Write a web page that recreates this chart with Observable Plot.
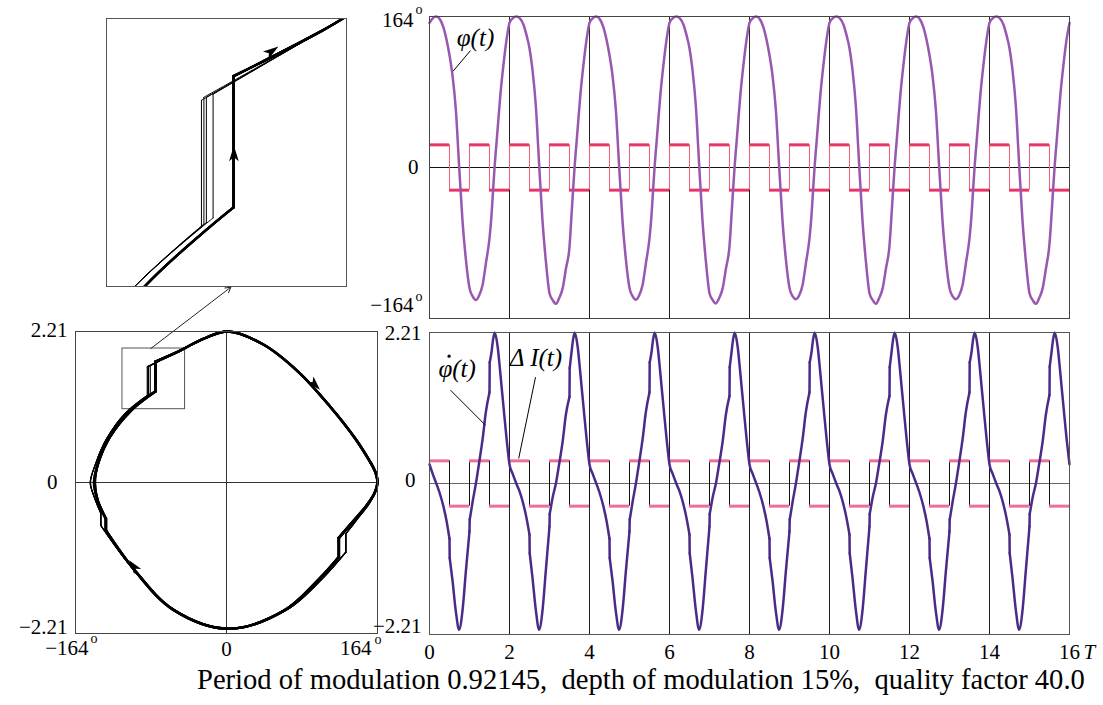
<!DOCTYPE html>
<html>
<head>
<meta charset="utf-8">
<script src="https://cdn.jsdelivr.net/npm/d3@7"></script>
<script src="https://cdn.jsdelivr.net/npm/@observablehq/plot@0.6"></script>
<style>
  html, body { margin: 0; padding: 0; background: #fff; }
  #root { position: relative; width: 1103px; height: 705px; overflow: hidden; font-family: "Liberation Serif", "Times New Roman", serif; }
  #root svg { position: absolute; }
  #caption { position: absolute; left: 197px; top: 664px; font-size: 28.6px; white-space: pre; color: #000; font-family: "Liberation Serif", "Times New Roman", serif; }
</style>
</head>
<body>
<div id="root"></div>
<script>
// ---------------- data ----------------
// time samples (T units), grouped by period of 2
const time = [
  0,0.08,0.17,0.26,0.35,0.43,0.5,0.505,0.575,0.66,0.74,0.825,0.91,1,1.005,1.08,1.16,1.24,1.33,1.41,1.5,1.505,1.55,1.59,1.63,1.7,1.77,1.85,1.93,
  2,2.08,2.17,2.26,2.35,2.43,2.5,2.505,2.575,2.66,2.74,2.825,2.91,3,3.005,3.08,3.16,3.24,3.33,3.41,3.5,3.505,3.55,3.59,3.63,3.7,3.77,3.85,3.93,
  4,4.08,4.17,4.26,4.35,4.43,4.5,4.505,4.575,4.66,4.74,4.825,4.91,5,5.005,5.08,5.16,5.24,5.33,5.41,5.5,5.505,5.55,5.59,5.63,5.7,5.77,5.85,5.93,
  6,6.08,6.17,6.26,6.35,6.43,6.5,6.505,6.575,6.66,6.74,6.825,6.91,7,7.005,7.08,7.16,7.24,7.33,7.41,7.5,7.505,7.55,7.59,7.63,7.7,7.77,7.85,7.93,
  8,8.08,8.17,8.26,8.35,8.43,8.5,8.505,8.575,8.66,8.74,8.825,8.91,9,9.005,9.08,9.16,9.24,9.33,9.41,9.5,9.505,9.55,9.59,9.63,9.7,9.77,9.85,9.93,
  10,10.08,10.17,10.26,10.35,10.43,10.5,10.505,10.575,10.66,10.74,10.825,10.91,11,11.005,11.08,11.16,11.24,11.33,11.41,11.5,11.505,11.55,11.59,11.63,11.7,11.77,11.85,11.93,
  12,12.08,12.17,12.26,12.35,12.43,12.5,12.505,12.575,12.66,12.74,12.825,12.91,13,13.005,13.08,13.16,13.24,13.33,13.41,13.5,13.505,13.55,13.59,13.63,13.7,13.77,13.85,13.93,
  14,14.08,14.17,14.26,14.35,14.43,14.5,14.505,14.575,14.66,14.74,14.825,14.91,15,15.005,15.08,15.16,15.24,15.33,15.41,15.5,15.505,15.55,15.59,15.63,15.7,15.77,15.85,15.93,
  16
];
// phase φ(t), degrees
const phi = [
  157,162,164,161,152,138,122,122,100,62,2,-58,-100,-131,-131,-140,-144,-139,-127,-104,-77,-77,-52,-24,2,40,78,112,140,
  157,162,164,162,155,143,129.6,129.6,106,66,4,-58,-102,-136.5,-136.5,-144,-148,-142,-131,-110,-86.1,-86.1,-52,-24,2,40,78,112,140,
  157,162,164,161,152,138,122,122,100,62,2,-58,-100,-131,-131,-140,-143.5,-139,-127,-104,-77,-77,-52,-24,2,40,78,112,140,
  157,162,164,162,155,143,129.6,129.6,106,66,4,-58,-102,-136.5,-136.5,-144,-147.6,-142,-131,-110,-85.4,-85.4,-52,-24,2,40,78,112,140,
  157,162,164,161,152,138,122,122,100,62,2,-58,-100,-131,-131,-140,-143,-139,-127,-104,-77,-77,-52,-24,2,40,78,112,140,
  157,162,164,162,155,143,129.6,129.6,106,66,4,-58,-102,-136.5,-136.5,-144,-148,-142,-131,-110,-84.7,-84.7,-52,-24,2,40,78,112,140,
  157,162,164,161,152,138,122,122,100,62,2,-58,-100,-131,-131,-140,-143,-139,-127,-104,-77,-77,-52,-24,2,40,78,112,140,
  157,162,164,162,155,143,129.6,129.6,106,66,4,-58,-102,-136.5,-136.5,-144,-148,-142,-131,-110,-82.8,-82.8,-52,-24,2,40,78,112,140,
  157
];
// phase derivative φ̇(t)
const phiDot = [
  0.28,0.14,0,-0.15,-0.34,-0.56,-0.81,-1.09,-1.42,-1.88,-2.14,-1.86,-1.28,-0.7,-0.53,-0.26,0,0.3,0.66,1.05,1.335,1.77,1.92,2.11,2.21,2.02,1.62,1.12,0.64,
  0.28,0.14,0,-0.13,-0.31,-0.52,-0.75,-1.02,-1.38,-1.86,-2.14,-1.86,-1.26,-0.63,-0.45,-0.2,0,0.28,0.62,1.01,1.27,1.69,1.92,2.11,2.21,2.02,1.62,1.12,0.64,
  0.28,0.14,0,-0.15,-0.34,-0.56,-0.81,-1.09,-1.42,-1.88,-2.14,-1.86,-1.28,-0.7,-0.53,-0.26,0,0.3,0.66,1.05,1.335,1.77,1.92,2.11,2.21,2.02,1.62,1.12,0.64,
  0.28,0.14,0,-0.13,-0.31,-0.52,-0.75,-1.02,-1.38,-1.86,-2.14,-1.86,-1.26,-0.63,-0.45,-0.2,0,0.28,0.62,1.01,1.28,1.7,1.92,2.11,2.21,2.02,1.62,1.12,0.64,
  0.28,0.14,0,-0.15,-0.34,-0.56,-0.81,-1.09,-1.42,-1.88,-2.14,-1.86,-1.28,-0.7,-0.53,-0.26,0,0.3,0.66,1.05,1.335,1.77,1.92,2.11,2.21,2.02,1.62,1.12,0.64,
  0.28,0.14,0,-0.13,-0.31,-0.52,-0.75,-1.02,-1.38,-1.86,-2.14,-1.86,-1.26,-0.63,-0.45,-0.2,0,0.28,0.62,1.01,1.285,1.7,1.92,2.11,2.21,2.02,1.62,1.12,0.64,
  0.28,0.14,0,-0.15,-0.34,-0.56,-0.81,-1.09,-1.42,-1.88,-2.14,-1.86,-1.28,-0.7,-0.53,-0.26,0,0.3,0.66,1.05,1.335,1.77,1.92,2.11,2.21,2.02,1.62,1.12,0.64,
  0.28,0.14,0,-0.13,-0.31,-0.52,-0.75,-1.02,-1.38,-1.86,-2.14,-1.86,-1.26,-0.63,-0.45,-0.2,0,0.28,0.62,1.01,1.3,1.71,1.92,2.11,2.21,2.02,1.62,1.12,0.64,
  0.28
];
// square-wave modulation ΔI(t): switching instants and sign of each half period
const modEdges = [0,0.5,1,1.5,2,2.5,3,3.5,4,4.5,5,5.5,6,6.5,7,7.5,8,8.5,9,9.5,10,10.5,11,11.5,12,12.5,13,13.5,14,14.5,15,15.5,16];
const modLevel = [1,-1,1,-1,1,-1,1,-1,1,-1,1,-1,1,-1,1,-1,1,-1,1,-1,1,-1,1,-1,1,-1,1,-1,1,-1,1,-1];
const modDepth = 0.15;
// axes
const phiMax = 164;
const dotMax = 2.21;
const gridT = [2,4,6,8,10,12,14];
const xTicks = [0,2,4,6,8,10,12,14,16];
const xTickLabels = ["0","2","4","6","8","10","12","14","16"];
// zoomed window of the phase portrait
const insetPhi = [-113, -45];
const insetDot = [1.073, 1.961];
// styling
const FONT = "Liberation Serif";
const phiColor = "#9857b0";
const dotColor = "#4a2b88";
const sqTopColor = "#e93566";
const sqTopEdge = "#f0607e";
const sqBotColor = "#ec6f98";

// ---------------- derived tables ----------------
const rows = time.map((t, i) => ({t, phi: phi[i], dot: phiDot[i]}));
const phiRows = rows.filter((d, i) => i === 0 || d.phi !== rows[i - 1].phi);
const segs = modLevel.map((l, i) => ({x1: modEdges[i], x2: modEdges[i + 1], level: l}));
const switches = modEdges.slice(1).map(t => ({t}));
const nCycles = 8;
const cycles = d3.range(nCycles).map(k => rows.filter(d => d.t >= 2 * k && d.t <= 2 * k + 2));

// split a run of samples into smooth pieces and the instantaneous jumps between them
function split(run) {
  const pieces = [], jumps = [];
  let cur = [run[0]];
  for (let i = 1; i < run.length; i++) {
    if (run[i].phi === run[i - 1].phi) {
      pieces.push(cur);
      jumps.push([run[i - 1], run[i]]);
      cur = [run[i]];
    } else cur.push(run[i]);
  }
  pieces.push(cur);
  return {
    smooth: pieces.flatMap((p, j) => p.map(d => ({...d, z: j}))),
    jumps: jumps.flatMap((p, j) => p.map(d => ({...d, z: j})))
  };
}
const cycleParts = cycles.map(split);
const dotParts = split(rows);

const arrowHead = {
  draw(context, size) {
    const r = Math.sqrt(size / Math.PI);
    context.moveTo(0, -1.6 * r);
    context.lineTo(0.8 * r, 1.0 * r);
    context.lineTo(0, 0.35 * r);
    context.lineTo(-0.8 * r, 1.0 * r);
    context.closePath();
  }
};

function lab(x, y, s, o = {}) {
  return Plot.text([{x, y, s}], Object.assign({x: "x", y: "y", text: "s", fontFamily: FONT, fontSize: 21, fill: "black", textAnchor: "middle"}, o));
}
function portraitLines(extra, wA, wB) {
  return cycleParts.flatMap((p, k) => [
    Plot.line(p.smooth, {x: "phi", y: "dot", z: "z", curve: "catmull-rom", stroke: "black", strokeWidth: k % 2 === 0 ? wA : wB, ...extra}),
    Plot.line(p.jumps, {x: "phi", y: "dot", z: "z", stroke: "black", strokeWidth: k % 2 === 0 ? wA : wB, ...extra})
  ]);
}

const root = document.getElementById("root");
function place(svg, left, top) {
  svg.style.left = left + "px";
  svg.style.top = top + "px";
  root.appendChild(svg);
}

// ---------------- inset (zoom of the portrait) ----------------
const inset = Plot.plot({
  width: 255, height: 285,
  marginLeft: 6, marginRight: 9, marginTop: 8, marginBottom: 9,
  x: {domain: insetPhi, axis: null},
  y: {domain: insetDot, axis: null},
  style: {background: "transparent", overflow: "visible"},
  marks: [
    ...portraitLines({clip: true}, 2.3, 1),
    Plot.dot([{x: -66.5, y: 1.85}, {x: -76.9, y: 1.508}], {x: "x", y: "y", symbol: arrowHead, r: 6, fill: "black", stroke: "none", rotate: (d, i) => [55, 0][i]}),
    Plot.frame({stroke: "#555", strokeWidth: 1})
  ]
});
place(inset, 100, 10);

// ---------------- phase portrait ----------------
const portrait = Plot.plot({
  width: 400, height: 385,
  marginLeft: 75, marginRight: 23, marginTop: 51, marginBottom: 32,
  x: {domain: [-phiMax, phiMax], axis: null},
  y: {domain: [-dotMax, dotMax], axis: null},
  style: {background: "transparent", overflow: "visible"},
  marks: [
    Plot.ruleX([0], {stroke: "#333", strokeWidth: 1}),
    Plot.ruleY([0], {stroke: "#333", strokeWidth: 1}),
    Plot.rect([{x1: insetPhi[0], x2: insetPhi[1], y1: insetDot[0], y2: insetDot[1]}], {x1: "x1", x2: "x2", y1: "y1", y2: "y2", fill: "none", stroke: "#555", strokeWidth: 1}),
    Plot.arrow([{x1: -82.2, y1: insetDot[1], x2: 4.7, y2: 2.858}], {x1: "x1", y1: "y1", x2: "x2", y2: "y2", stroke: "#222", strokeWidth: 1, headLength: 9}),
    ...portraitLines({}, 2.5, 1.1),
    Plot.dot([{x: 95, y: 1.45}, {x: -100, y: -1.24}], {x: "x", y: "y", symbol: arrowHead, r: 5.5, fill: "black", stroke: "none", rotate: (d, i) => [137, -37][i]}),
    Plot.frame({stroke: "#444", strokeWidth: 1}),
    lab(-phiMax, dotMax, "2.21", {textAnchor: "end", dx: -8, dy: -1}),
    lab(-phiMax, 0, "0", {textAnchor: "end", dx: -18}),
    lab(-phiMax, -dotMax, "\u22122.21", {textAnchor: "end", dx: -8, dy: -6}),
    lab(-phiMax, -dotMax, "\u2212164", {textAnchor: "end", dx: 13, dy: 15}),
    lab(-phiMax, -dotMax, "o", {textAnchor: "start", dx: 15, dy: 5, fontSize: 14}),
    lab(0, -dotMax, "0", {dy: 16}),
    lab(phiMax, -dotMax, "164", {textAnchor: "end", dx: -6, dy: 15}),
    lab(phiMax, -dotMax, "o", {textAnchor: "start", dx: -3, dy: 6, fontSize: 14})
  ]
});
place(portrait, 0, 280);

// ---------------- φ(t) panel ----------------
const topPanel = Plot.plot({
  width: 733, height: 330,
  marginLeft: 59, marginRight: 34, marginTop: 16, marginBottom: 12,
  x: {domain: [0, 16], axis: null},
  y: {domain: [-phiMax, phiMax], axis: null},
  style: {background: "transparent", overflow: "visible"},
  marks: [
    Plot.ruleX(gridT, {stroke: "#222", strokeWidth: 1}),
    Plot.ruleY([0], {stroke: "#111", strokeWidth: 1}),
    Plot.ruleX(switches, {x: "t", y1: -modDepth * phiMax, y2: modDepth * phiMax, stroke: sqTopEdge, strokeWidth: 1}),
    Plot.ruleY(segs, {x1: "x1", x2: "x2", y: d => d.level * modDepth * phiMax, stroke: sqTopColor, strokeWidth: 3}),
    Plot.line(phiRows, {x: "t", y: "phi", curve: "monotone-x", stroke: phiColor, strokeWidth: 2.5}),
    Plot.link([{x1: 1.025, y1: 127, x2: 0.59, y2: 104.6}], {x1: "x1", y1: "y1", x2: "x2", y2: "y2", stroke: "black", strokeWidth: 1}),
    lab(1.15, 141, "\u03c6(t)", {fontSize: 25, fontStyle: "italic"}),
    Plot.frame({stroke: "#444", strokeWidth: 1}),
    lab(0, phiMax, "164", {textAnchor: "end", dx: -16, dy: 4}),
    lab(0, phiMax, "o", {textAnchor: "start", dx: -14, dy: -7, fontSize: 14}),
    lab(0, 0, "0", {textAnchor: "end", dx: -11}),
    lab(0, -phiMax, "\u2212164", {textAnchor: "end", dx: -16, dy: -13}),
    lab(0, -phiMax, "o", {textAnchor: "start", dx: -14, dy: -22, fontSize: 14})
  ]
});
place(topPanel, 370, 0);

// ---------------- φ̇(t) panel ----------------
const botPanel = Plot.plot({
  width: 733, height: 345,
  marginLeft: 59, marginRight: 34, marginTop: 7, marginBottom: 36,
  x: {domain: [0, 16], axis: null},
  y: {domain: [-dotMax, dotMax], axis: null},
  style: {background: "transparent", overflow: "visible"},
  marks: [
    Plot.ruleX(gridT, {stroke: "#222", strokeWidth: 1}),
    Plot.ruleY([0], {stroke: "#666", strokeWidth: 1.2}),
    Plot.ruleX(switches, {x: "t", y1: -modDepth * dotMax, y2: modDepth * dotMax, stroke: "#111", strokeWidth: 1}),
    Plot.ruleY(segs, {x1: "x1", x2: "x2", y: d => d.level * modDepth * dotMax, stroke: sqBotColor, strokeWidth: 3}),
    Plot.line(dotParts.smooth, {x: "t", y: "dot", z: "z", curve: "monotone-x", stroke: dotColor, strokeWidth: 2.5}),
    Plot.line(dotParts.jumps, {x: "t", y: "dot", z: "z", stroke: dotColor, strokeWidth: 2.5}),
    Plot.link([{x1: 0.525, y1: 1.366, x2: 1.4, y2: 0.853}, {x1: 2.65, y1: 1.556, x2: 2.23, y2: 0.366}], {x1: "x1", y1: "y1", x2: "x2", y2: "y2", stroke: "black", strokeWidth: 1}),
    lab(0.69, 1.673, "\u03c6(t)", {fontSize: 25, fontStyle: "italic"}),
    Plot.dot([{x: 0.69, y: 1.673}], {x: "x", y: "y", r: 1.6, fill: "black", stroke: "none", dx: -8, dy: -13}),
    lab(2.66, 1.83, "\u0394 I(t)", {fontSize: 25, fontStyle: "italic"}),
    Plot.frame({stroke: "#555", strokeWidth: 1}),
    lab(0, dotMax, "2.21", {textAnchor: "end", dx: -8, dy: 1}),
    lab(0, 0, "0", {textAnchor: "end", dx: -14, dy: -3}),
    lab(0, -dotMax, "\u22122.21", {textAnchor: "end", dx: -8, dy: -8}),
    Plot.text(xTicks.map((x, i) => ({x, s: xTickLabels[i]})), {x: "x", y: () => -dotMax, text: "s", dy: 18, fontFamily: FONT, fontSize: 21, fill: "black"}),
    lab(16, -dotMax, "T", {textAnchor: "start", dx: 14, dy: 18, fontStyle: "italic"})
  ]
});
place(botPanel, 370, 325);

// ---------------- caption ----------------
const cap = document.createElement("div");
cap.id = "caption";
cap.textContent = "Period of modulation 0.92145,  depth of modulation 15%,  quality factor 40.0";
root.appendChild(cap);
</script>
</body>
</html>
